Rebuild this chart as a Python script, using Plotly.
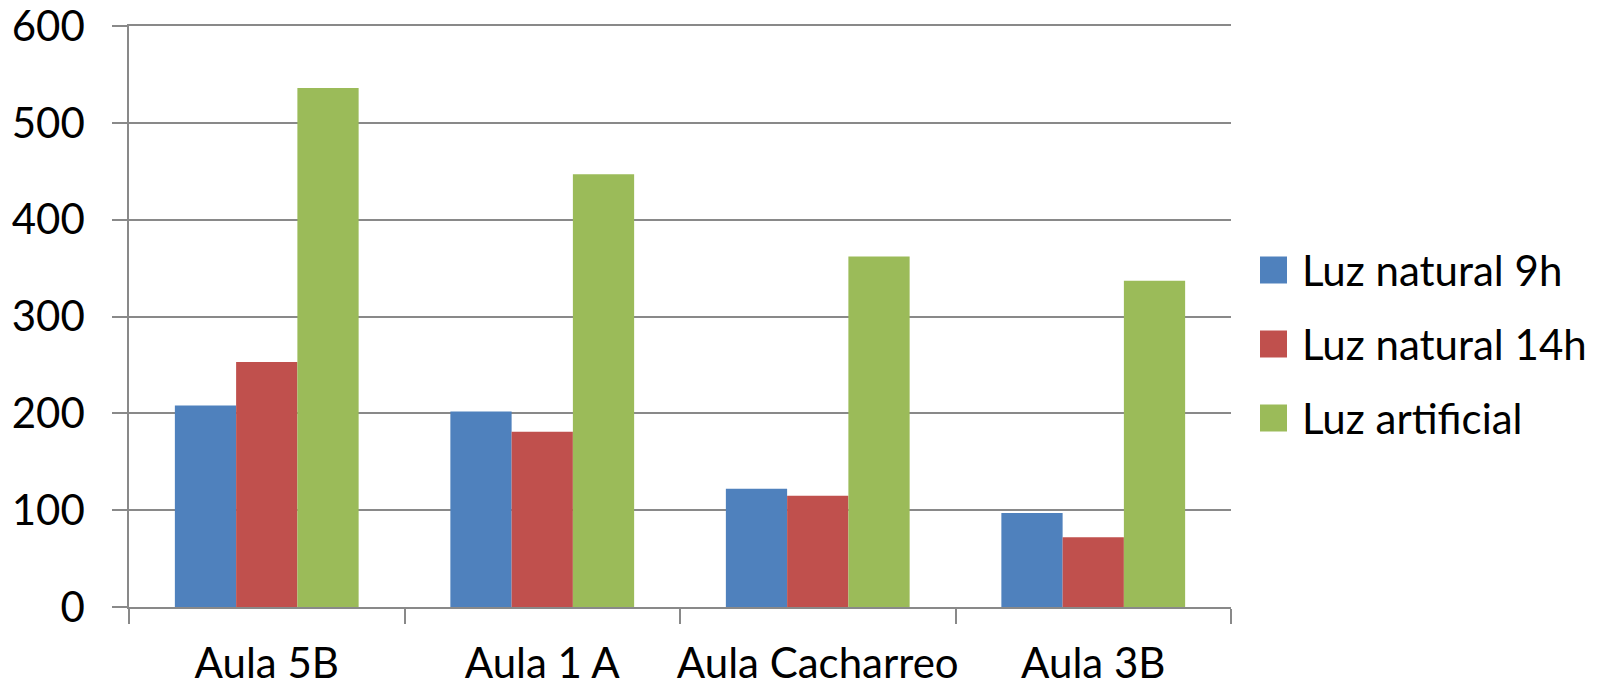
import plotly.graph_objects as go

categories = ["Aula 5B", "Aula 1 A", "Aula Cacharreo", "Aula 3B"]
series_names = ["Luz natural 9h", "Luz natural 14h", "Luz artificial"]
luz_9h = [208, 202, 122, 97]
luz_14h = [253, 181, 115, 72]
luz_artificial = [536, 447, 362, 337]
series_values = [luz_9h, luz_14h, luz_artificial]
colors = ["#4F81BD", "#C0504D", "#9BBB59"]
y_ticks = [0, 100, 200, 300, 400, 500, 600]

FONT = "Lato"
W, H = 1609, 690
OFF = 8  # default page body margin
# target plot area in screenshot pixels
PX0, PX1, PY0, PY1 = 129, 1231, 26, 607
L, T = PX0 - OFF, PY0 - OFF
R, B = W - (PX1 - OFF), H - (PY1 - OFF)

fig = go.Figure()
for name, vals, col in zip(series_names, series_values, colors):
    fig.add_trace(go.Bar(name=name, x=categories, y=vals,
                         marker=dict(color=col, line=dict(width=0)),
                         showlegend=False))

# custom legend (large swatches like the original)
plot_w = PX1 - PX0
plot_h = PY1 - PY0
shapes, annos = [], []
row_centers_px = [270, 344, 418]
for name, col, cy in zip(series_names, colors, row_centers_px):
    yc = (PY1 - cy) / plot_h
    half = 13.5 / plot_h
    shapes.append(dict(type="rect", xref="paper", yref="paper",
                       x0=(1260 - PX0) / plot_w, x1=(1287 - PX0) / plot_w,
                       y0=yc - half, y1=yc + half,
                       fillcolor=col, line=dict(width=0)))
    annos.append(dict(xref="paper", yref="paper", x=(1300 - PX0) / plot_w, y=yc,
                      xanchor="left", yanchor="middle", showarrow=False,
                      text=name, font=dict(family=FONT, size=42, color="black")))

fig.update_layout(
    width=W, height=H,
    margin=dict(l=L, r=R, t=T, b=B, pad=0, autoexpand=False),
    paper_bgcolor="white", plot_bgcolor="white",
    barmode="group", bargap=0.333, bargroupgap=0,
    font=dict(family=FONT, size=42, color="black"),
    shapes=shapes, annotations=annos,
    showlegend=False,
)
fig.update_xaxes(
    type="category", showgrid=False, automargin=False, tickangle=0,
    showline=True, linecolor="#898989", linewidth=1.5, mirror=True,
    ticks="outside", tickson="boundaries", ticklen=15, tickwidth=1.5, tickcolor="#898989",
    tickfont=dict(family=FONT, size=42, color="black"),
    ticklabelstandoff=19, ticklabeloverflow="allow",
)
fig.update_yaxes(
    range=[0, 600], tickvals=y_ticks, ticktext=[str(v) for v in y_ticks],
    automargin=False,
    showgrid=True, gridcolor="#898989", gridwidth=1.5,
    showline=True, linecolor="#898989", linewidth=1.5,
    ticks="outside", ticklen=15, tickwidth=1.5, tickcolor="#898989",
    tickfont=dict(family=FONT, size=42, color="black"),
    zeroline=False, ticklabelstandoff=19, ticklabeloverflow="allow",
)
fig.write_html("out.html")
